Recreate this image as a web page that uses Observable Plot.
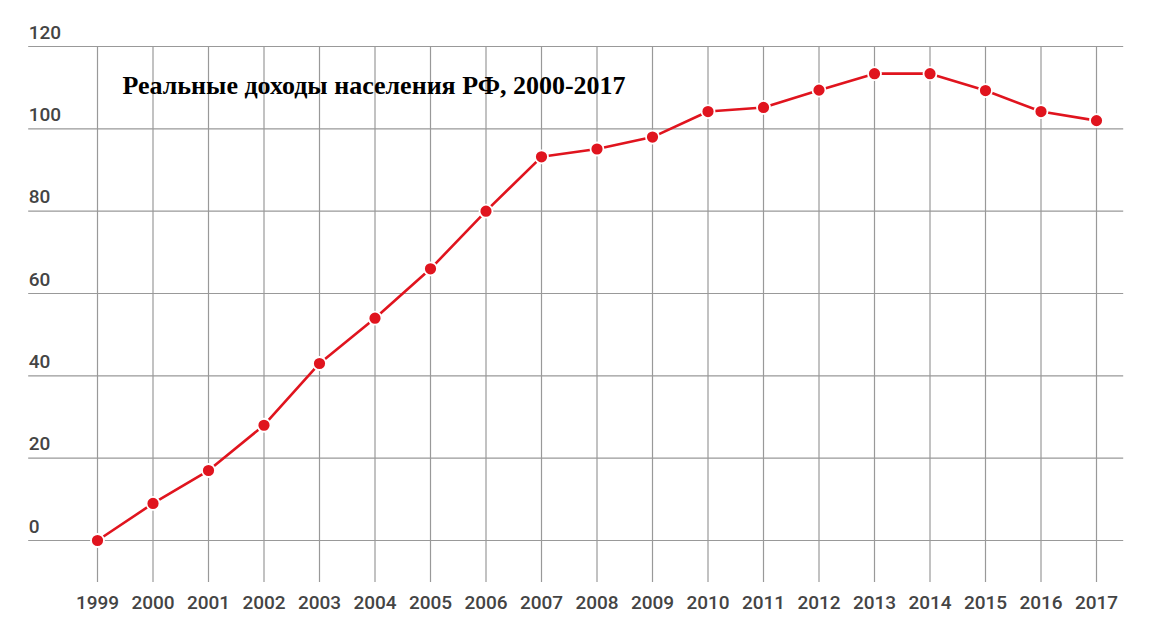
<!DOCTYPE html>
<html><head><meta charset="utf-8">
<script src="https://cdn.jsdelivr.net/npm/d3@7"></script>
<script src="https://cdn.jsdelivr.net/npm/@observablehq/plot@0.6"></script>
<style>body{margin:0;background:#fff}</style>
</head><body><div id="chart"></div>
<script>
const years = [1999,2000,2001,2002,2003,2004,2005,2006,2007,2008,2009,2010,2011,2012,2013,2014,2015,2016,2017];
const values = [0,9,17,28,43,54,66,80,93.2,95.1,98,104.2,105.2,109.4,113.4,113.4,109.3,104.2,102];
const yTicks = [0,20,40,60,80,100,120];
const title = "Реальные доходы населения РФ, 2000-2017";

const data = years.map((y,i)=>({year:y, value:values[i]}));
const gridLeft = 1997.76, gridRight = 2017.49, gridBottom = -10.2;

const chart = Plot.plot({
  width:1152, height:640,
  marginLeft:97, marginRight:56, marginTop:46, marginBottom:100,
  x:{domain:[1999,2017], axis:null},
  y:{domain:[0,120], axis:null},
  style:{fontFamily:"Roboto, sans-serif", background:"#fff"},
  marks:[
    Plot.ruleY(yTicks, {y:d=>d, x1:gridLeft, x2:gridRight, stroke:"#999", strokeWidth:1.2}),
    Plot.ruleX(years, {x:d=>d, y1:gridBottom, y2:120, stroke:"#999", strokeWidth:1.2}),
    Plot.text(yTicks, {x:gridLeft, y:d=>d, text:d=>String(d), textAnchor:"start", dy:-14, fontSize:19, fontWeight:500, fill:"#444"}),
    Plot.text(years, {x:d=>d, y:gridBottom, text:d=>String(d), dy:20, fontSize:19, fontWeight:500, fill:"#444"}),
    Plot.line(data, {x:"year", y:"value", stroke:"#e0141e", strokeWidth:2.6}),
    Plot.dot(data, {x:"year", y:"value", r:6.5, fill:"#e0141e", stroke:"#fff", strokeWidth:1.8}),
    Plot.text([title], {x:1999.45, y:110.6, text:d=>d, textAnchor:"start", fontFamily:"Liberation Serif, serif", fontWeight:"bold", fontSize:26, fill:"#000"})
  ]
});
document.getElementById("chart").append(chart);
</script></body></html>
